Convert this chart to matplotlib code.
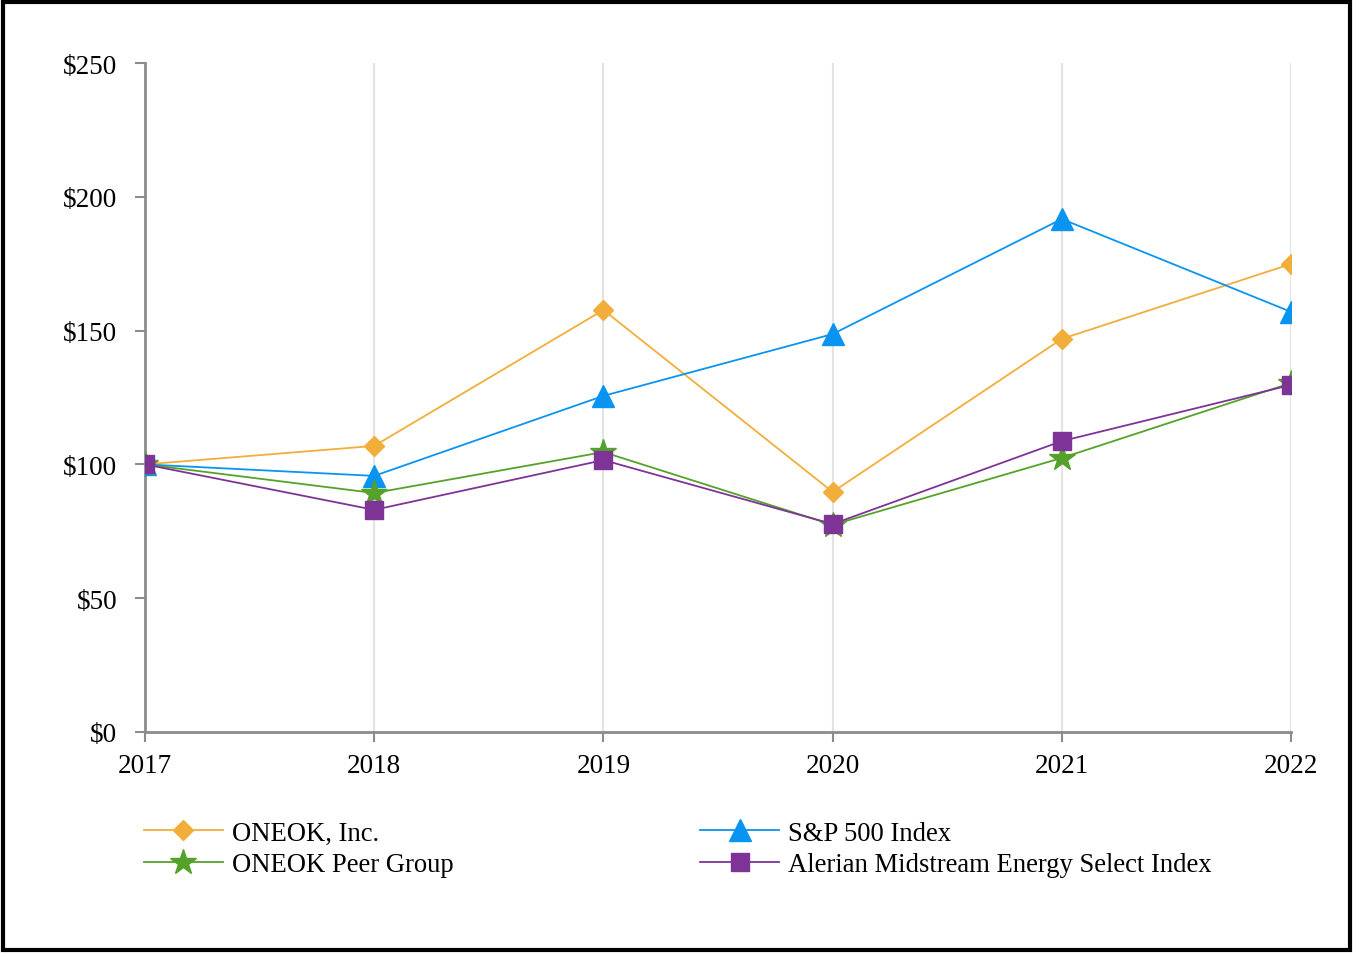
import matplotlib
matplotlib.use("Agg")
import matplotlib.pyplot as plt
from matplotlib.patches import Rectangle

plt.rcParams['font.family'] = ['Liberation Serif', 'DejaVu Serif']

years = [2017, 2018, 2019, 2020, 2021, 2022]
oneok = [100, 106.9, 157.7, 89.7, 146.9, 174.9]
sp500 = [100, 95.7, 125.6, 148.7, 191.7, 157.0]
peer = [100, 89.3, 104.6, 77.4, 102.4, 130.4]
alerian = [100, 83.0, 101.6, 77.7, 108.7, 129.7]

yticks = [0, 50, 100, 150, 200, 250]
ylabels = ['$0', '$50', '$100', '$150', '$200', '$250']

fig = plt.figure(figsize=(13.54, 9.54), dpi=100)
ax = fig.add_axes([0.1071, 0.2317, 0.8464, 0.7012])

ax.plot(years, oneok, color='#F2AE3A', lw=1.3, marker='D', ms=10, label='ONEOK, Inc.', zorder=3)
ax.plot(years, sp500, color='#0A94F2', lw=1.3, marker='^', ms=16, label='S&P 500 Index', zorder=3)
ax.plot(years, peer, color='#55A22A', lw=1.3, marker='*', ms=19, label='ONEOK Peer Group', zorder=3)
ax.plot(years, alerian, color='#7E3496', lw=1.3, marker='s', ms=13, label='Alerian Midstream Energy Select Index', zorder=4)

ax.set_xlim(2017, 2022)
ax.set_ylim(0, 250)
ax.set_xticks(years)
ax.set_xticklabels([str(y) for y in years], fontsize=19.5)
ax.set_yticks(yticks)
ax.set_yticklabels(ylabels, fontsize=19.5)
ax.xaxis.grid(True, color='#E3E3E3', lw=1.5)
ax.set_axisbelow(True)
for s in ['top', 'right']:
    ax.spines[s].set_visible(False)
for s in ['left', 'bottom']:
    ax.spines[s].set_color('#8C8C8C')
    ax.spines[s].set_linewidth(2)
ax.tick_params(axis='both', colors='#8C8C8C', length=7, width=1.5, labelcolor='black')
ax.tick_params(axis='y', pad=13)
ax.tick_params(axis='x', pad=8)

handles, labels = ax.get_legend_handles_labels()
order = [0, 2, 1, 3]
fig.legend([handles[i] for i in order], [labels[i] for i in order],
           loc='upper left', bbox_to_anchor=(0.0985, 0.150), ncol=2, frameon=False,
           fontsize=19.2, handlelength=2.95, columnspacing=9.25, labelspacing=0.26,
           handletextpad=0.35, borderaxespad=0)

fig.patches.append(Rectangle((0.002, 0.003), 0.995, 0.994, transform=fig.transFigure,
                             fill=False, edgecolor='black', lw=3))

fig.savefig('out.png', dpi=100)
